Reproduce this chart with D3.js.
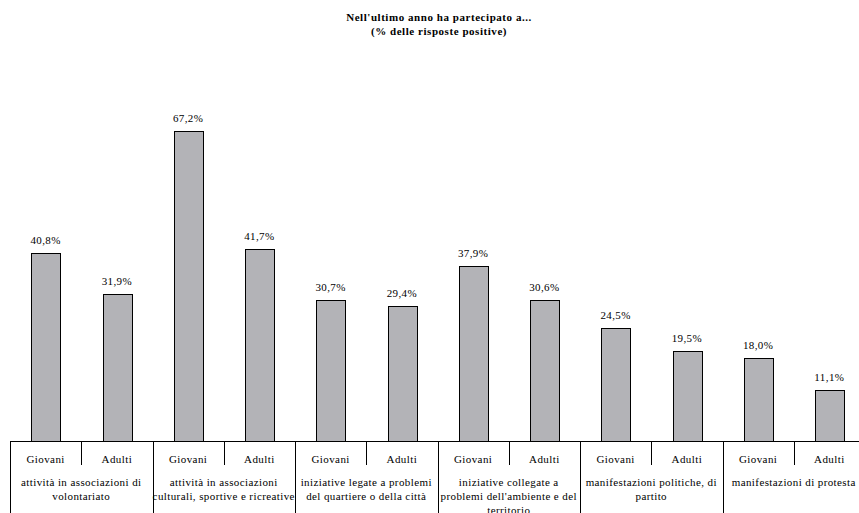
<!DOCTYPE html>
<html><head><meta charset="utf-8">
<script src="https://cdn.jsdelivr.net/npm/d3@7"></script>
<style>body{margin:0;background:#fff}svg{display:block}</style>
</head><body><svg id="c" width="859" height="513"></svg>
<script>
const categories = [
  ["attività in associazioni di","volontariato"],
  ["attività in associazioni","culturali, sportive e ricreative"],
  ["iniziative legate a problemi","del quartiere o della città"],
  ["iniziative collegate a","problemi dell'ambiente e del","territorio"],
  ["manifestazioni politiche, di","partito"],
  ["manifestazioni di protesta"]
];
const groups = ["Giovani","Adulti"];
const giovani = [40.8, 67.2, 30.7, 37.9, 24.5, 18.0];
const adulti  = [31.9, 41.7, 29.4, 30.6, 19.5, 11.1];
const titleLines = ["Nell'ultimo anno ha partecipato a...","(% delle risposte positive)"];

const FONT = "Liberation Serif";
const FS = 11, LS = "0.4px";
const svg = d3.select("#c");
const x0 = 10, x1 = 865, yBase = 441.5;
const rows = [];
categories.forEach((c,i)=>{
  rows.push({key:i+"-G", cat:i, grp:groups[0], v:giovani[i]});
  rows.push({key:i+"-A", cat:i, grp:groups[1], v:adulti[i]});
});
const x = d3.scaleBand().domain(rows.map(d=>d.key)).range([x0,x1]).paddingInner(0.6).paddingOuter(0.3);
const y = d3.scaleLinear().domain([0,80]).range([yBase,71.5]);
const fmt = v => d3.format(".1f")(v).replace(".",",")+"%";

function styleText(sel){
  return sel.attr("font-family",FONT).attr("font-size",FS).attr("letter-spacing",LS)
    .attr("text-anchor","middle").attr("fill","#000");
}

// title
styleText(svg.append("g").selectAll("text").data(titleLines).join("text"))
  .attr("letter-spacing","0.55px")
  .attr("x",439).attr("y",(d,i)=>21+i*14)
  .attr("font-weight","bold").text(d=>d);

// bars
svg.append("g").selectAll("rect").data(rows).join("rect")
  .attr("x",d=>Math.round(x(d.key))+0.5).attr("y",d=>Math.round(y(d.v))+0.5)
  .attr("width",Math.round(x.bandwidth())).attr("height",d=>yBase-0.5-Math.round(y(d.v)))
  .attr("fill","#b3b3b7").attr("stroke","#000").attr("stroke-width",1);

styleText(svg.append("g").selectAll("text").data(rows).join("text"))
  .attr("x",d=>x(d.key)+x.bandwidth()/2).attr("y",d=>y(d.v)-9)
  .text(d=>fmt(d.v));

// axis
const step = x.step();
const ax = svg.append("g").attr("stroke","#000").attr("stroke-width",1);
ax.append("line").attr("x1",x0).attr("x2",x1).attr("y1",yBase).attr("y2",yBase);
categories.forEach((c,i)=>{
  const gx = Math.round(x0 + i*2*step)+0.5;
  ax.append("line").attr("x1",gx).attr("x2",gx).attr("y1",yBase).attr("y2",513);
  const mx = Math.round(x0 + (i*2+1)*step)+0.5;
  ax.append("line").attr("x1",mx).attr("x2",mx).attr("y1",yBase).attr("y2",465);
});
styleText(svg.append("g").selectAll("text").data(rows).join("text"))
  .attr("x",d=>x(d.key)+x.bandwidth()/2).attr("y",463)
  .text(d=>d.grp);
const cg = svg.append("g");
categories.forEach((lines,i)=>{
  const cx = x0 + (i*2+1)*step;
  styleText(cg.selectAll(null).data(lines).join("text"))
    .attr("x",cx).attr("y",(d,j)=>486+j*14)
    .text(d=>d);
});
</script></body></html>
